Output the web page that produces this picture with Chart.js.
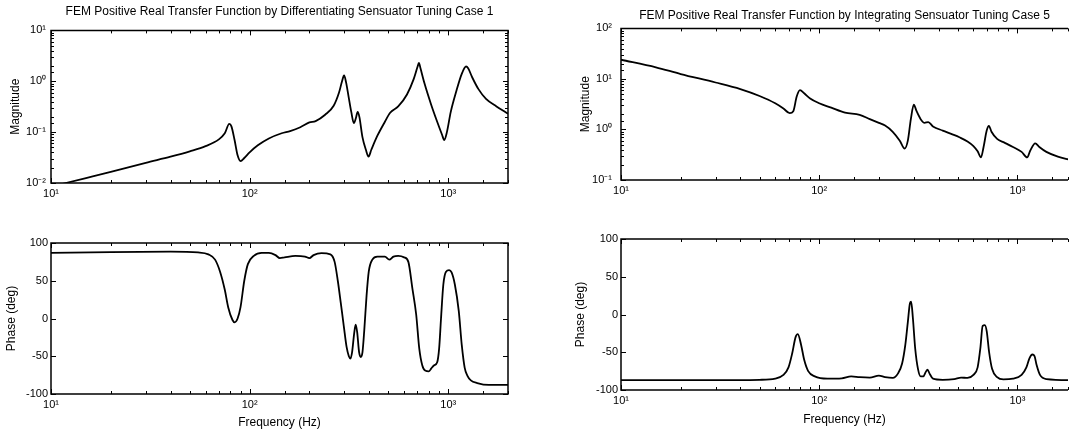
<!DOCTYPE html>
<html lang="en">
<head>
<meta charset="UTF-8">
<title>FEM Positive Real Transfer Function</title>
<script src="https://cdn.jsdelivr.net/npm/chart.js"></script>
<style>
  html, body { margin: 0; padding: 0; background: #fff; overflow: hidden; }
  body { width: 1072px; height: 431px; position: relative; }
  canvas { position: absolute; }
  #magDiff { left: 0; top: 0; }
  #phaseDiff { left: 0; top: 215px; }
  #magInt { left: 540px; top: 0; }
  #phaseInt { left: 540px; top: 215px; }
</style>
</head>
<body>
<canvas id="magDiff" width="536" height="205"></canvas>
<canvas id="phaseDiff" width="536" height="216"></canvas>
<canvas id="magInt" width="532" height="205"></canvas>
<canvas id="phaseInt" width="532" height="216"></canvas>
<script>
// Case 1 - differentiating sensuator
const diffMagFreq = [10, 15, 20, 30, 40, 50, 60, 70, 75, 79, 81, 84, 87, 90, 94, 100, 110, 125, 145, 160, 180, 200, 215, 240, 265, 282, 292, 299, 306, 315, 325, 335, 343, 350, 357, 370, 385, 397, 410, 440, 480, 510, 560, 620, 670, 700, 712, 725, 760, 820, 880, 930, 955, 985, 1030, 1100, 1170, 1230, 1260, 1320, 1420, 1550, 1750, 2000];
const diffMag = [0.0085, 0.0125, 0.0165, 0.025, 0.033, 0.042, 0.053, 0.072, 0.095, 0.145, 0.13, 0.07, 0.035, 0.027, 0.031, 0.04, 0.055, 0.075, 0.095, 0.105, 0.125, 0.155, 0.165, 0.22, 0.33, 0.6, 1.0, 1.3, 0.95, 0.5, 0.25, 0.15, 0.19, 0.25, 0.2, 0.08, 0.045, 0.033, 0.045, 0.085, 0.16, 0.24, 0.32, 0.55, 1.1, 1.9, 2.3, 1.8, 0.9, 0.35, 0.16, 0.09, 0.07, 0.1, 0.25, 0.65, 1.4, 1.95, 1.8, 1.2, 0.7, 0.45, 0.32, 0.23];

const diffPhaseFreq = [10, 20, 40, 55, 62, 67, 71, 75, 78, 82, 84, 87, 90, 94, 98, 105, 115, 125, 135, 142, 150, 170, 190, 200, 210, 230, 255, 268, 278, 288, 298, 308, 316, 322, 328, 336, 342, 348, 356, 363, 370, 378, 388, 398, 415, 440, 480, 505, 530, 560, 600, 630, 660, 690, 715, 740, 765, 800, 822, 850, 880, 900, 920, 945, 975, 1010, 1040, 1080, 1130, 1170, 1210, 1250, 1300, 1400, 1600, 2000];
const diffPhase = [87, 88, 88.5, 87.5, 85, 78, 62, 38, 15, -2, -5, 0, 15, 50, 72, 83, 87, 87, 84, 80, 81, 83, 82, 80, 84, 86.5, 85, 75, 50, 20, -10, -38, -50, -53, -45, -20, -8, -18, -45, -51, -45, -15, 30, 62, 78, 82, 82, 78, 82, 83, 81, 75, 40, 5, -40, -62, -69, -70, -66, -62, -58, -40, 0, 45, 62, 64, 61, 45, 10, -35, -65, -76, -82, -85.5, -88, -88];

// Case 5 - integrating sensuator
const intMagFreq = [10, 15, 20, 30, 40, 50, 60, 66, 71, 74, 77, 80, 84, 90, 100, 115, 135, 160, 180, 200, 215, 235, 255, 270, 280, 290, 300, 310, 325, 340, 355, 375, 420, 470, 510, 560, 600, 630, 655, 675, 700, 718, 740, 790, 860, 950, 1050, 1120, 1160, 1230, 1290, 1400, 1600, 1850, 2000];
const intMag = [24, 17, 12.5, 8.5, 6.3, 4.6, 3.3, 2.6, 2.1, 2.3, 4.5, 6.0, 5.2, 4.1, 3.3, 2.7, 2.15, 1.95, 1.6, 1.35, 1.2, 0.9, 0.6, 0.42, 0.6, 1.6, 3.1, 2.3, 1.6, 1.35, 1.4, 1.15, 0.95, 0.8, 0.7, 0.58, 0.47, 0.37, 0.28, 0.45, 0.95, 1.18, 0.9, 0.65, 0.55, 0.45, 0.36, 0.28, 0.38, 0.53, 0.45, 0.36, 0.29, 0.25, 0.23];

const intPhaseFreq = [10, 30, 50, 60, 66, 70, 73, 76, 78, 81, 84, 88, 95, 110, 130, 145, 160, 180, 200, 215, 235, 250, 262, 272, 280, 287, 291, 297, 305, 315, 325, 335, 345, 352, 360, 375, 420, 480, 520, 560, 600, 630, 650, 668, 685, 700, 720, 745, 790, 850, 950, 1050, 1110, 1150, 1190, 1220, 1250, 1300, 1400, 2000];
const intPhase = [-87, -87, -86.5, -85, -80, -70, -52, -30, -26, -40, -60, -75, -82, -85, -84.5, -82, -83, -83.5, -81, -83, -84, -78, -65, -40, -10, 15, 17, -5, -45, -72, -82, -82, -76, -73, -78, -85, -86.5, -85.5, -83.5, -84, -80, -70, -45, -15, -14, -22, -50, -72, -83, -86, -85, -80, -70, -58, -53, -55, -67, -80, -85.5, -87];

const titleDiff = 'FEM Positive Real Transfer Function by Differentiating Sensuator Tuning Case 1';
const titleInt = 'FEM Positive Real Transfer Function by Integrating Sensuator Tuning Case 5';
const phaseTicks = [-100, -50, 0, 50, 100];

const FONT = '"Liberation Sans", Arial, Helvetica, sans-serif';
Chart.defaults.font.family = FONT;
Chart.defaults.font.size = 11;
Chart.defaults.color = '#000';

const sup = { '-': '\u207B', '0': '\u2070', '1': '\u00B9', '2': '\u00B2', '3': '\u00B3' };
const isDecade = v => Math.abs(Math.log10(v) - Math.round(Math.log10(v))) < 1e-6;
const decadeLabel = v => isDecade(v)
  ? '10' + String(Math.round(Math.log10(v))).split('').map(c => sup[c]).join('')
  : '';

// matlab style box with inward ticks
const frame = {
  id: 'frame',
  afterDatasetsDraw(chart, args, opts) {
    const { ctx, chartArea: a } = chart;
    const xs = chart.scales.x, ys = chart.scales.y;
    ctx.save();
    ctx.strokeStyle = '#000';
    ctx.lineWidth = 1;
    ctx.beginPath();
    xs.ticks.forEach(t => {
      const px = Math.round(xs.getPixelForValue(t.value)) + 0.5;
      const len = isDecade(t.value) ? 5 : 3;
      ctx.moveTo(px, a.bottom); ctx.lineTo(px, a.bottom - len);
      ctx.moveTo(px, a.top); ctx.lineTo(px, a.top + len);
    });
    ys.ticks.forEach(t => {
      const py = Math.round(ys.getPixelForValue(t.value)) + 0.5;
      const len = (ys.type === 'logarithmic' && !isDecade(t.value)) ? 3 : 5;
      ctx.moveTo(a.left, py); ctx.lineTo(a.left + len, py);
      if (!opts.openRight) { ctx.moveTo(a.right, py); ctx.lineTo(a.right - len, py); }
    });
    ctx.stroke();
    ctx.lineWidth = 1.5;
    ctx.beginPath();
    if (opts.openRight) {
      ctx.moveTo(a.right, a.top); ctx.lineTo(a.left, a.top);
      ctx.lineTo(a.left, a.bottom); ctx.lineTo(a.right, a.bottom);
    } else {
      ctx.rect(a.left, a.top, a.right - a.left, a.bottom - a.top);
    }
    ctx.stroke();
    ctx.restore();
  }
};

function bode(id, p) {
  const data = p.freq.map((f, i) => ({ x: f, y: p.vals[i] }));
  return new Chart(document.getElementById(id), {
    type: 'line',
    data: {
      datasets: [{
        data,
        borderColor: '#000',
        borderWidth: 1.8,
        pointRadius: 0,
        cubicInterpolationMode: 'monotone',
        fill: false
      }]
    },
    plugins: [frame],
    options: {
      responsive: false,
      animation: false,
      events: [],
      layout: { padding: { top: p.padTop, right: p.padRight, left: 0, bottom: 0 } },
      plugins: {
        legend: { display: false },
        tooltip: { enabled: false },
        title: {
          display: !!p.title,
          text: p.title,
          fullSize: false,
          font: { size: 12, weight: 'normal' },
          padding: p.titlePad
        },
        frame: { openRight: p.openRight }
      },
      scales: {
        x: {
          type: 'logarithmic',
          min: 10,
          max: p.xMax,
          grid: { display: false, drawTicks: false },
          border: { display: false },
          ticks: { autoSkip: false, maxRotation: 0, padding: p.xTickPad, callback: decadeLabel },
          title: p.xTitle ? { display: true, text: 'Frequency (Hz)', font: { size: 12 }, padding: { top: 0, bottom: p.xTitlePad } } : { display: false },
          afterFit: s => { s.height = p.xHeight; }
        },
        y: p.log ? {
          type: 'logarithmic',
          min: p.yMin,
          max: p.yMax,
          grid: { display: false, drawTicks: false },
          border: { display: false },
          ticks: { autoSkip: false, padding: p.yTickPad, callback: decadeLabel },
          title: { display: true, text: 'Magnitude', font: { size: 12 }, padding: { top: p.yTitlePad, bottom: 0 } },
          afterFit: s => { s.width = p.yWidth; }
        } : {
          type: 'linear',
          min: -100,
          max: 100,
          afterBuildTicks: s => { s.ticks = phaseTicks.map(v => ({ value: v })); },
          grid: { display: false, drawTicks: false },
          border: { display: false },
          ticks: { padding: p.yTickPad },
          title: { display: true, text: 'Phase (deg)', font: { size: 12 }, padding: { top: p.yTitlePad, bottom: 0 } },
          afterFit: s => { s.width = p.yWidth; }
        }
      }
    }
  });
}

bode('magDiff', {
  freq: diffMagFreq, vals: diffMag, log: true, yMin: 0.01, yMax: 10, xMax: 2000,
  title: titleDiff, titlePad: { top: 4, bottom: 12 }, padTop: 0, padRight: 28,
  yWidth: 51, xHeight: 22, yTickPad: 5, xTickPad: 4, yTitlePad: 8, openRight: false
});
bode('phaseDiff', {
  freq: diffPhaseFreq, vals: diffPhase, log: false, xMax: 2000,
  padTop: 28, padRight: 28, yWidth: 51, xHeight: 37, yTickPad: 3, xTickPad: 4,
  yTitlePad: 4, xTitle: true, xTitlePad: 1, openRight: false
});
bode('magInt', {
  freq: intMagFreq, vals: intMag, log: true, yMin: 0.1, yMax: 100, xMax: 1800,
  title: titleInt, titlePad: { top: 8, bottom: 6 }, padTop: 0, padRight: 0,
  yWidth: 81, xHeight: 25, yTickPad: 9, xTickPad: 4, yTitlePad: 38, openRight: true
});
bode('phaseInt', {
  freq: intPhaseFreq, vals: intPhase, log: false, xMax: 1800,
  padTop: 24, padRight: 0, yWidth: 81, xHeight: 41, yTickPad: 3, xTickPad: 4,
  yTitlePad: 33, xTitle: true, xTitlePad: 4, openRight: true
});
</script>
</body>
</html>
